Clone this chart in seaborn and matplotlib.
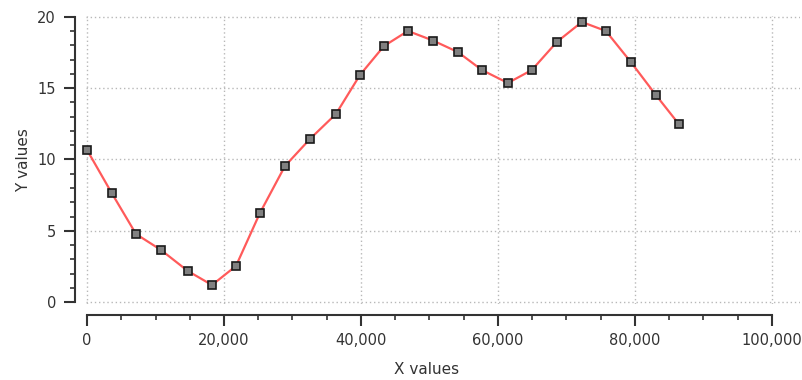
import matplotlib
matplotlib.use("Agg")
import matplotlib.pyplot as plt
from matplotlib.ticker import FuncFormatter, MultipleLocator
import seaborn as sns
import pandas as pd

x_values = [0, 3600, 7150, 10800, 14700, 18250, 21750, 25250, 28900, 32550,
            36350, 39850, 43350, 46850, 50500, 54150, 57650, 61450, 64950,
            68600, 72250, 75750, 79400, 83050, 86400]
y_values = [10.67, 7.65, 4.77, 3.65, 2.18, 1.19, 2.53, 6.25, 9.54, 11.44,
            13.2, 15.93, 17.96, 19.02, 18.35, 17.54, 16.28, 15.37, 16.28,
            18.25, 19.65, 19.02, 16.84, 14.53, 12.49]
x_ticks = [0, 20000, 40000, 60000, 80000, 100000]
y_ticks = [0, 5, 10, 15, 20]

sns.set_style("white")
plt.rcParams['font.family'] = ['DejaVu Sans']

df = pd.DataFrame({"x": x_values, "y": y_values})

fig = plt.figure(figsize=(8.03, 3.80), dpi=100)
# y: 0 -> 302px, 20 -> 17px (14.25 px/unit); limits padded slightly
y_lo, y_hi = -0.15, 20.1
top_px = 17 - (y_hi - 20) * 14.25
bot_px = 302 + (0 - y_lo) * 14.25
ax = fig.add_axes([86 / 803, (380 - bot_px) / 380, (800 - 86) / 803,
                   (bot_px - top_px) / 380])

sns.lineplot(data=df, x="x", y="y", ax=ax, sort=False, estimator=None,
             color="#ff5a5a", linewidth=1.6, marker="s", markersize=6,
             markerfacecolor="#808080", markeredgecolor="#1a1a1a",
             markeredgewidth=1.2, clip_on=False, zorder=3)

ax.set_xlim(-150, 104100)
ax.set_ylim(y_lo, y_hi)

ax.set_xticks(x_ticks)
ax.set_yticks(y_ticks)
ax.xaxis.set_minor_locator(MultipleLocator(5000))
ax.yaxis.set_minor_locator(MultipleLocator(1))
ax.xaxis.set_major_formatter(FuncFormatter(lambda v, _: f"{int(v):,}"))

ax.grid(True, which="major", color="#b8b8b8", linestyle=(0, (1, 2)), linewidth=1)

for s in ["top", "right"]:
    ax.spines[s].set_visible(False)
ax.spines["left"].set_position(("outward", 7.6))
ax.spines["bottom"].set_position(("outward", 7.8))
ax.spines["left"].set_bounds(0, 20)
ax.spines["bottom"].set_bounds(0, 100000)
for s in ["left", "bottom"]:
    ax.spines[s].set_color("#333333")
    ax.spines[s].set_linewidth(1.5)

ax.tick_params(which="both", bottom=True, left=True, top=False, right=False)
ax.tick_params(which="major", direction="out", length=8, width=1.5,
               color="#333333", labelsize=10.5, labelcolor="#333333")
ax.tick_params(which="minor", direction="out", length=3.8, width=1.2,
               color="#333333")
ax.tick_params(axis="y", which="major", pad=6)
ax.tick_params(axis="x", which="major", pad=5)

ax.set_xlabel("X values", fontsize=11, color="#333333")
ax.set_ylabel("Y values", fontsize=11, color="#333333")
ax.xaxis.set_label_coords(0.477, -0.2)
ax.yaxis.set_label_coords(-0.077, 0.5)

fig.savefig("out.png", dpi=100)
